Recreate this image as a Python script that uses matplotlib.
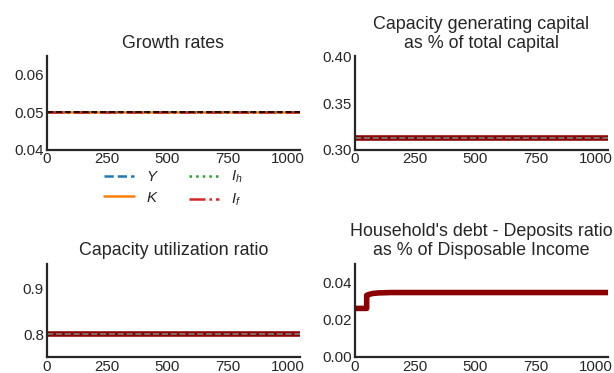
import numpy as np
import matplotlib
matplotlib.use('Agg')
import matplotlib.pyplot as plt
import seaborn as sns

# simulation periods and steady-state series
t_span = [0, 1050]
g_Y = [0.05, 0.05]
g_K = [0.05, 0.05]
g_Ih = [0.05, 0.05]
g_If = [0.05, 0.05]
g_ref = 0.05

kc_share = [0.312, 0.312]
kc_ref = 0.312

u_ratio = [0.8, 0.8]
u_ref = 0.8

# household debt - deposits ratio, step at t=50
t_debt = [0, 50, 50, 60, 75, 100, 150, 200, 1050]
debt_ratio = [0.026, 0.026, 0.0330, 0.0335, 0.0340, 0.0343, 0.0345, 0.0345, 0.0345]

sns.set_style('white')
plt.rcParams['font.family'] = ['Liberation Sans', 'DejaVu Sans']
plt.rcParams['mathtext.fontset'] = 'custom'
plt.rcParams['mathtext.rm'] = 'Liberation Sans'
plt.rcParams['mathtext.it'] = 'Liberation Sans:italic'
plt.rcParams['axes.linewidth'] = 1.6
plt.rcParams['axes.edgecolor'] = '.15'

tick_fs = 10.8
title_fs = 12.9

fig, axes = plt.subplots(2, 2, figsize=(6.14, 3.73), dpi=100)
fig.subplots_adjust(left=0.076, right=0.99, bottom=0.043, top=0.849,
                    wspace=0.216, hspace=1.22)

ax = axes[0, 0]
ax.plot(t_span, g_Y, color='tab:blue', ls='--', lw=1.8, label='$Y$')
ax.plot(t_span, g_K, color='tab:orange', ls='-', lw=1.8, label='$K$')
ax.plot(t_span, g_Ih, color='tab:green', ls=':', lw=1.8, label='$I_h$')
ax.plot(t_span, g_If, color='tab:red', ls='-.', lw=1.8, label='$I_f$')
ax.axhline(g_ref, color='black', ls='--', lw=1.2)
ax.set_ylim(0.04, 0.065)
ax.set_yticks([0.04, 0.05, 0.06])
ax.set_title('Growth rates', fontsize=title_fs, color='.15')
ax.legend(loc='upper center', bbox_to_anchor=(0.5, -0.06), ncol=2,
          frameon=False, fontsize=tick_fs, columnspacing=2.0,
          labelspacing=0.45, handlelength=2.0)

ax = axes[0, 1]
ax.plot(t_span, kc_share, color='darkred', lw=4)
ax.axhline(kc_ref, color='grey', ls='--', lw=1.2)
ax.set_ylim(0.30, 0.40)
ax.set_yticks([0.30, 0.35, 0.40])
ax.set_title('Capacity generating capital\nas % of total capital',
             fontsize=title_fs, color='.15', linespacing=1.15)

ax = axes[1, 0]
ax.plot(t_span, u_ratio, color='darkred', lw=4)
ax.axhline(u_ref, color='grey', ls='--', lw=1.2)
ax.set_ylim(0.75, 0.955)
ax.set_yticks([0.8, 0.9])
ax.set_title('Capacity utilization ratio', fontsize=title_fs, color='.15')

ax = axes[1, 1]
ax.plot(t_debt, debt_ratio, color='darkred', lw=4)
ax.set_ylim(0.0, 0.05)
ax.set_yticks([0.0, 0.02, 0.04])
ax.set_title("Household's debt - Deposits ratio\nas % of Disposable Income",
             fontsize=title_fs, color='.15', linespacing=1.15)

for ax in axes.flat:
    ax.set_xlim(0, 1050)
    ax.set_xticks([0, 250, 500, 750, 1000])
    ax.tick_params(labelsize=tick_fs, colors='.15', length=0, pad=2)
    sns.despine(ax=ax)

fig.savefig('out.png', dpi=100)
